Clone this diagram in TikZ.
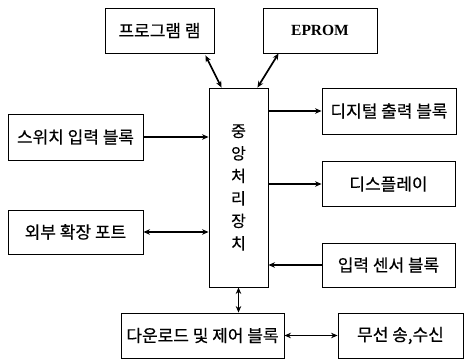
\documentclass[tikz,border=0pt]{standalone}
\usepackage{fontspec}
\setmainfont{Liberation Serif}
\newfontfamily\kr[FakeBold=0.4]{Noto Sans CJK KR}
\usetikzlibrary{arrows.meta,calc}
\begin{document}
\begin{tikzpicture}[x=1pt,y=-1pt,
  box/.style={draw, line width=0.9pt, inner sep=0pt, font=\kr\fontsize{17}{19}\selectfont},
  tip/.tip={Stealth[length=6.5pt,width=5.5pt]},
  arr/.style={line width=1.7pt, -tip},
  darr/.style={line width=1.7pt, tip-tip}]
\useasboundingbox[fill=white] (0,0) rectangle (468,361);
\node[box, minimum width=109pt, minimum height=45pt] (ram) at (159.5,30.5) {프로그램 램};
\node[box, minimum width=114pt, minimum height=45pt, font=\bfseries\fontsize{15.5}{18}\selectfont] (eprom) at (320,30.5) {EPROM};
\node[box, minimum width=59pt, minimum height=199pt, align=center, font=\kr\fontsize{16}{22.5}\selectfont] (cpu) at (238.5,187.5) {중\\앙\\처\\리\\장\\치};
\node[box, minimum width=134pt, minimum height=46pt] (dout) at (389,111) {디지털 출력 블록};
\node[box, minimum width=135pt, minimum height=46pt] (sw) at (75.5,137) {스위치 입력 블록};
\node[box, minimum width=133pt, minimum height=45pt] (disp) at (388.5,184) {디스플레이};
\node[box, minimum width=135pt, minimum height=44pt] (ext) at (75.5,232) {외부 확장 포트};
\node[box, minimum width=133pt, minimum height=44pt] (sens) at (388.5,265) {입력 센서 블록};
\node[box, minimum width=163pt, minimum height=45pt] (dl) at (202.5,335.5) {다운로드 및 제어 블록};
\node[box, minimum width=125pt, minimum height=45pt] (rf) at (400.5,335.5) {무선 송,수신};
\draw[darr] ($(ram.south east)+(-9,2)$) -- ($(cpu.north west)+(13,0)$);
\draw[darr] ($(eprom.south west)+(16,0)$) -- ($(cpu.north east)+(-11,0)$);
\draw[arr] (cpu.east |- dout.west) -- (dout.west);
\draw[arr] (sw.east) -- (sw.east -| cpu.west);
\draw[arr] (cpu.east |- disp.west) -- (disp.west);
\draw[darr] (ext.east) -- (ext.east -| cpu.west);
\draw[arr] (sens.west) -- (sens.west -| cpu.east);
\draw[darr] (cpu.south) -- (cpu.south |- dl.north);
\draw[darr] (dl.east) -- (rf.west);
\end{tikzpicture}
\end{document}
